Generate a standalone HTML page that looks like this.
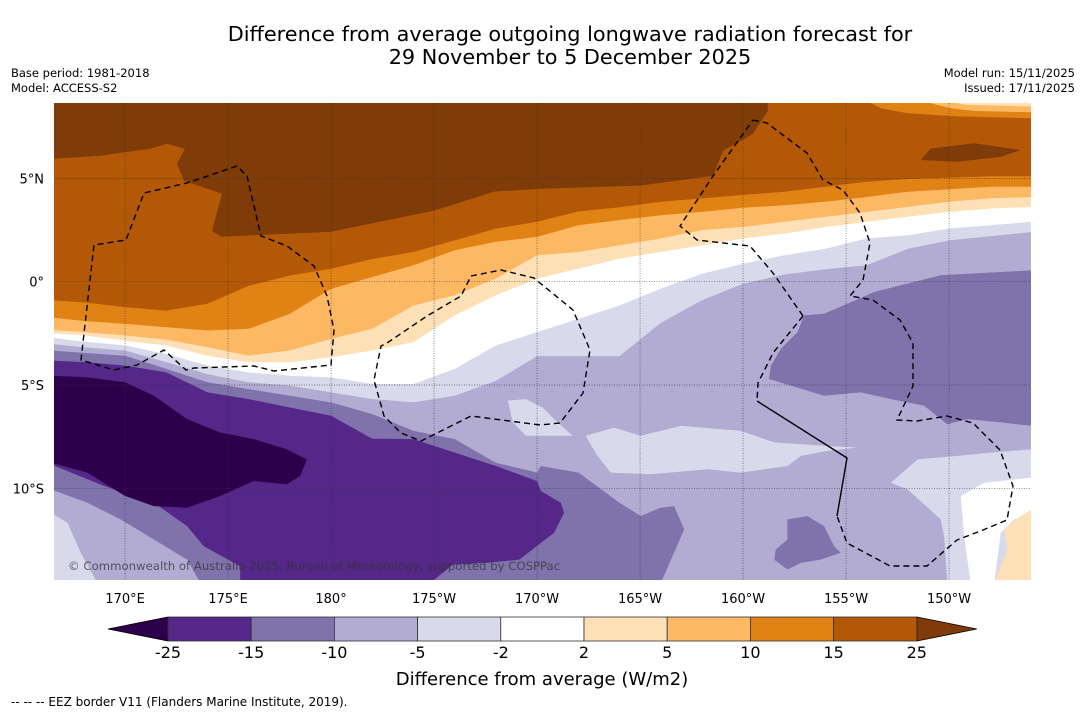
<!DOCTYPE html>
<html><head><meta charset="utf-8"><style>
html,body{margin:0;padding:0;background:#fff;}
svg{display:block;font-family:"DejaVu Sans","Liberation Sans",sans-serif;}
</style></head><body>
<svg id="chart" width="1085" height="713" viewBox="0 0 1085 713" xmlns="http://www.w3.org/2000/svg">
<rect width="1085" height="713" fill="#fff"/>
<text x="570" y="41" font-size="20.8" text-anchor="middle">Difference from average outgoing longwave radiation forecast for</text>
<text x="570" y="64" font-size="20.8" text-anchor="middle">29 November to 5 December 2025</text>
<text x="11" y="77" font-size="11.5">Base period: 1981-2018</text>
<text x="11" y="92" font-size="11.5">Model: ACCESS-S2</text>
<text x="1075" y="77" font-size="11.5" text-anchor="end">Model run: 15/11/2025</text>
<text x="1075" y="92" font-size="11.5" text-anchor="end">Issued: 17/11/2025</text>
<defs><clipPath id="mapclip"><rect x="54" y="103" width="977" height="477"/></clipPath></defs>
<g id="map" clip-path="url(#mapclip)"></g>
<g id="overlay"></g>
<g id="axes"></g>
<g id="cbar"></g>
<text x="542" y="685" font-size="18" text-anchor="middle">Difference from average (W/m2)</text>
<text x="11" y="706" font-size="12">--  --  -- EEZ border V11 (Flanders Marine Institute, 2019).</text>
</svg>
<script>
// ---- data ----
const LONS = [166.5,168,170,172,174,176,178,180,182,184,186,188,190,192,194,196,198,200,202,204,206,208,210,212,214];
const LAT_M5 = [-2.93,-3.17,-3.33,-3.9,-4.47,-4.87,-5.03,-5.36,-5.68,-5.84,-5.52,-4.8,-3.6,-3.6,-3.6,-2.0,-0.9,-0.1,0.35,0.6,0.8,1.6,2.0,2.2,2.4];
const LAT_M2 = [-2.6,-2.9,-3.09,-3.5,-4.06,-4.39,-4.55,-4.63,-4.95,-4.95,-4.22,-3.09,-2.44,-1.8,-1.15,-0.34,0.39,0.87,1.28,1.6,2.09,2.25,2.57,2.73,2.9];
const LAT_P2 = [-2.44,-2.6,-2.85,-3.09,-3.58,-3.9,-3.9,-3.66,-3.33,-2.93,-1.63,-0.66,0.15,0.63,1.12,1.44,1.76,2.09,2.33,2.65,2.9,3.14,3.38,3.54,3.62];
const LAT_P5 = [-2.28,-2.44,-2.6,-2.8,-3.17,-3.58,-3.33,-2.77,-2.28,-1.15,-0.66,0.15,1.28,1.44,1.76,2.09,2.5,2.65,2.9,3.14,3.38,3.62,3.87,4.03,4.1];
const LAT_P10 = [-1.63,-1.9,-2.04,-2.2,-2.36,-2.28,-1.55,-0.34,0.23,0.8,1.52,1.93,2.17,2.73,2.98,3.22,3.38,3.58,3.7,3.87,4.1,4.35,4.48,4.6,4.6];
const LAT_P15 = [-0.83,-1.0,-1.23,-1.4,-1.07,-0.2,0.3,0.63,1.1,1.44,2.0,2.57,2.9,3.4,3.6,3.87,4.03,4.2,4.35,4.6,4.84,4.97,5.03,5.1,5.1];
const POLY_P25 = [[166.55,9],[166.55,5.95],[168.79,6.1],[171.21,6.44],[172.04,6.68],[172.91,6.44],[172.52,5.71],[172.86,4.89],[174.71,4.26],[174.22,2.47],[174.66,2.18],[180,2.42],[185,3.44],[187.91,4.36],[190.15,4.5],[195,4.65],[198.54,5.13],[199.03,6.34],[200.49,7.16],[201.21,8.28],[201.17,9]];
const BLOB_P25_EAST = [[208.63,5.89],[209.11,6.45],[211.22,6.7],[213.48,6.37],[212.51,6.05],[210.41,5.81]];
const TOP_P10 = [[206.04,9],[206.04,8.72],[206.69,8.4],[207.98,8.15],[210.41,8.0],[214.02,7.91],[214.02,9]];
const TOP_P5 = [[208.79,9],[208.79,8.72],[210.08,8.4],[211.22,8.27],[214.02,8.2],[214.02,9]];
const TOP_P2 = [[209.92,9],[209.92,8.72],[210.89,8.56],[214.02,8.48],[214.02,9]];
const TOP_M2 = [[211.22,9],[211.22,8.72],[214.02,8.64],[214.02,9]];
const EAST_M10 = [[214.02,0.55],[209.6,0.31],[206.36,-0.5],[205.23,-0.99],[203.93,-1.55],[202.96,-1.63],[202.64,-2.45],[201.83,-3.25],[201.35,-4.06],[201.26,-4.71],[202.32,-5.03],[203.93,-5.52],[205.71,-5.36],[207.17,-5.68],[208.79,-6.0],[209.6,-6.65],[209.92,-6.9],[210.89,-6.65],[212.51,-6.81],[214.02,-6.98]];
const SMALL_M10 = [[202.15,-11.51],[203.12,-11.34],[203.93,-11.83],[204.42,-12.8],[204.74,-13.12],[203.77,-13.45],[202.8,-13.61],[202.15,-13.93],[201.51,-13.45],[201.59,-12.96],[202.15,-12.48]];
const MID_M5_A = [[188.58,-5.76],[189.46,-5.68],[190.27,-6.09],[190.83,-6.65],[191.72,-7.46],[190.83,-7.46],[189.46,-7.46],[188.82,-6.81]];
const MID_M5_B = [[192.36,-7.46],[193.74,-7.06],[195.03,-7.46],[196.98,-6.98],[199.89,-7.22],[201.51,-7.78],[204.1,-7.95],[205.55,-8.03],[204.1,-8.19],[202.8,-8.43],[202.15,-8.92],[199.89,-9.24],[198.27,-9.08],[195.52,-9.32],[193.58,-9.24],[192.93,-8.43]];
const SE_M5 = [[207.17,-9.73],[208.47,-8.6],[210.41,-8.43],[212.03,-8.27],[214.02,-8.11],[214.02,-14.6],[209.92,-14.6],[209.76,-12.32],[209.6,-11.51],[207.98,-10.05]];
const SE_M2 = [[210.57,-10.37],[211.7,-9.73],[214.02,-9.48],[214.02,-11.18],[213.16,-11.51],[212.51,-12.15],[212.19,-14.6],[211.05,-14.6],[210.73,-12.32]];
const SE_P2 = [[212.67,-11.99],[213.48,-11.34],[214.02,-11.02],[214.02,-14.6],[212.19,-14.6],[212.83,-12.96]];
const WEST_M10 = [[166.4,-3.33],[170,-3.58],[172,-4.22],[174,-4.87],[176,-5.2],[178,-5.52],[180,-5.84],[182,-6.41],[184,-7.22],[186,-7.62],[188,-8.76],[190,-9.24],[190.18,-8.92],[192.01,-9.24],[194,-10.7],[195.03,-11.34],[196,-10.94],[196.65,-10.86],[197.14,-11.99],[196,-14.6],[173.66,-14.6],[173.01,-13.45],[171.4,-12.48],[169.79,-11.51],[168.17,-10.7],[166.4,-10.05]];
const WEST_M15 = [[166.4,-3.82],[168.17,-3.9],[170,-4.06],[172,-4.39],[174,-5.36],[176,-5.68],[178,-6.09],[180,-6.49],[182,-7.6],[184,-7.62],[186,-8.27],[188,-8.92],[190,-9.65],[190.18,-10.13],[191.15,-10.7],[191.31,-11.18],[190.83,-12.15],[190.18,-12.64],[189.14,-13.45],[187.53,-13.61],[185.92,-13.69],[184.79,-14.6],[175.59,-14.6],[175.59,-13.77],[173.82,-12.8],[173.01,-11.83],[171.4,-10.7],[168.98,-9.89],[166.4,-8.84]];
const WEST_M25 = [[166.4,-4.55],[168.17,-4.63],[170,-4.87],[171.4,-5.52],[173.01,-6.65],[174.62,-7.3],[176.24,-7.62],[177.85,-8.11],[178.82,-8.6],[178.5,-9.4],[177.85,-9.81],[176.24,-9.65],[174.62,-10.37],[173.01,-10.94],[171.4,-10.86],[170,-10.37],[168.17,-9.24],[166.4,-8.76]];
const SW_M5 = [[166.4,-11.18],[167.2,-11.67],[167.85,-13.12],[168.66,-14.6],[166.4,-14.6]];
const LON_TICKS = [170,175,180,185,190,195,200,205,210];
const LON_LABELS = ["170°E","175°E","180°","175°W","170°W","165°W","160°W","155°W","150°W"];
const LAT_TICKS = [5,0,-5,-10];
const LAT_LABELS = ["5°N","0°","5°S","10°S"];
const CB_LEVELS = [-25,-15,-10,-5,-2,2,5,10,15,25];
const CB_COLORS = ["#542788","#8073ac","#b2abd2","#d8daeb","#ffffff","#fee0b6","#fdb863","#e08214","#b35806"];
const CB_LOW = "#2d004b", CB_HIGH = "#7f3b08";

// ---- axes ----
const LON0=166.55, LAT0=8.65, PXD=20.6, PYD=20.66;
function X(lon){return 54+(lon-LON0)*PXD;}
function Y(lat){return 103+(LAT0-lat)*PYD;}
const NS="http://www.w3.org/2000/svg";
function mk(tag,attrs,parent){const e=document.createElementNS(NS,tag);for(const k in attrs)e.setAttribute(k,attrs[k]);parent.appendChild(e);return e;}
function ptsStr(poly){return poly.map(p=>X(p[0]).toFixed(1)+","+Y(p[1]).toFixed(1)).join(" ");}
const map=document.getElementById("map");
function fillPoly(poly,color,name){
  const e=mk("polygon",{points:ptsStr(poly),fill:color},map);
  
  
}
function northOf(lats){const p=[[LONS[0]-1,9.5]];LONS.forEach((l,i)=>p.push([l,lats[i]]));p.push([LONS[LONS.length-1]+1,lats[lats.length-1]]);p.push([LONS[LONS.length-1]+1,9.5]);p[1]=[LONS[0]-1,lats[0]];return p;}

const base=mk("rect",{x:54,y:103,width:977,height:477,fill:"#b2abd2"},map);


fillPoly(northOf(LAT_M5),"#d8daeb","band-minus5-minus2");
fillPoly(northOf(LAT_M2),"#ffffff","band-minus2-plus2");
fillPoly(northOf(LAT_P2),"#fee0b6","band-plus2-plus5");
fillPoly(northOf(LAT_P5),"#fdb863","band-plus5-plus10");
fillPoly(northOf(LAT_P10),"#e08214","band-plus10-plus15");
fillPoly(northOf(LAT_P15),"#b35806","band-plus15-plus25");
fillPoly(POLY_P25,"#7f3b08","band-above-25");
fillPoly(BLOB_P25_EAST,"#7f3b08","band-above-25-east");
fillPoly(TOP_P10,"#e08214","top-right-plus10");
fillPoly(TOP_P5,"#fdb863","top-right-plus5");
fillPoly(TOP_P2,"#fee0b6","top-right-plus2");
fillPoly(TOP_M2,"#ffffff","top-right-white");
fillPoly(EAST_M10,"#8073ac","east-minus10-region");
fillPoly(SMALL_M10,"#8073ac","south-minus10-blob");
fillPoly(MID_M5_A,"#d8daeb","mid-minus5-blob-a");
fillPoly(MID_M5_B,"#d8daeb","mid-minus5-blob-b");
fillPoly(SE_M5,"#d8daeb","southeast-minus5-region");
fillPoly(SE_M2,"#ffffff","southeast-white-region");
fillPoly(SE_P2,"#fee0b6","southeast-plus2-region");
fillPoly(WEST_M10,"#8073ac","west-minus10-region");
fillPoly(WEST_M15,"#542788","west-minus15-region");
fillPoly(WEST_M25,"#2d004b","west-below-minus25-region");
fillPoly(SW_M5,"#d8daeb","southwest-minus5-region");

// gridlines
const ov=document.getElementById("overlay");
LON_TICKS.forEach(l=>{const g=mk("line",{x1:X(l),x2:X(l),y1:103,y2:580,stroke:"#333","stroke-width":0.7,"stroke-dasharray":"1,1.5","stroke-opacity":0.8},ov);

});
LAT_TICKS.forEach(l=>{const g=mk("line",{x1:54,x2:1031,y1:Y(l),y2:Y(l),stroke:"#333","stroke-width":0.7,"stroke-dasharray":"1,1.5","stroke-opacity":0.8},ov);

});

// EEZ borders (map overlay geometry)
const eez=[
 "M237,166 L187,183 L144,193 L126,240 L94,245 L81,360 L114,370 L137,365 L164,350 L186,370 L194,368 L254,366 L274,371 L331,365 L334,330 L327,296 L314,266 L287,246 L261,236 L247,176 Z",
 "M471,276 L501,270 L534,278 L540,283 L573,310 L590,350 L583,393 L560,423 L540,425 L471,416 L421,441 L401,433 L384,416 L374,380 L381,346 L387,343 L427,316 L461,296 Z",
 "M753,120 L767,123 L807,153 L823,180 L843,190 L860,213 L870,243 L863,280 L850,296 L873,300 L900,320 L913,343 L913,386 L897,420 L917,421 L947,416 L973,423 L1000,450 L1013,486 L1007,520 L983,530 L957,540 L927,566 L890,566 L847,543 L837,516",
 "M803,316 L773,353 L758,383 L757,401",
 "M803,316 L773,273 L750,246 L697,240 L680,226 L713,176 L753,120"
];
eez.forEach(d=>{const p=mk("path",{d:d,fill:"none",stroke:"#000","stroke-width":1.4,"stroke-dasharray":"6,4"},ov);

});
const solid=mk("path",{d:"M757,401 L847,458 L837,516",fill:"none",stroke:"#000","stroke-width":1.4},ov);


const cr=mk("text",{x:68,y:570,"font-size":11.7,fill:"#333","fill-opacity":0.75},ov);
cr.textContent="\u00A9 Commonwealth of Australia 2025, Bureau of Meteorology, supported by COSPPac";



// tick labels
const ax=document.getElementById("axes");
LON_TICKS.forEach((l,i)=>{const t=mk("text",{x:X(l),y:603,"font-size":13,"text-anchor":"middle"},ax);t.textContent=LON_LABELS[i];

});
LAT_TICKS.forEach((l,i)=>{const t=mk("text",{x:44,y:Y(l)+5,"font-size":13,"text-anchor":"end"},ax);t.textContent=LAT_LABELS[i];

});

// colorbar
const cb=document.getElementById("cbar");
const CBX0=168, CBW=83.2, CBY=617, CBH=24;
function CX(i){return CBX0+i*CBW;}
const lt=mk("polygon",{points:`108,${CBY+CBH/2} ${CX(0)},${CBY} ${CX(0)},${CBY+CBH}`,fill:CB_LOW,stroke:"#000","stroke-width":0.8},cb);


const rt=mk("polygon",{points:`${CX(CB_COLORS.length)+60},${CBY+CBH/2} ${CX(CB_COLORS.length)},${CBY} ${CX(CB_COLORS.length)},${CBY+CBH}`,fill:CB_HIGH,stroke:"#000","stroke-width":0.8},cb);


CB_COLORS.forEach((c,i)=>{const r=mk("rect",{x:CX(i),y:CBY,width:CBW,height:CBH,fill:c,stroke:"#333","stroke-width":0.8},cb);

});
CB_LEVELS.forEach((v,i)=>{const t=mk("text",{x:CX(i),y:658,"font-size":16,"text-anchor":"middle"},cb);t.textContent=String(v);

});
</script>
</body></html>
